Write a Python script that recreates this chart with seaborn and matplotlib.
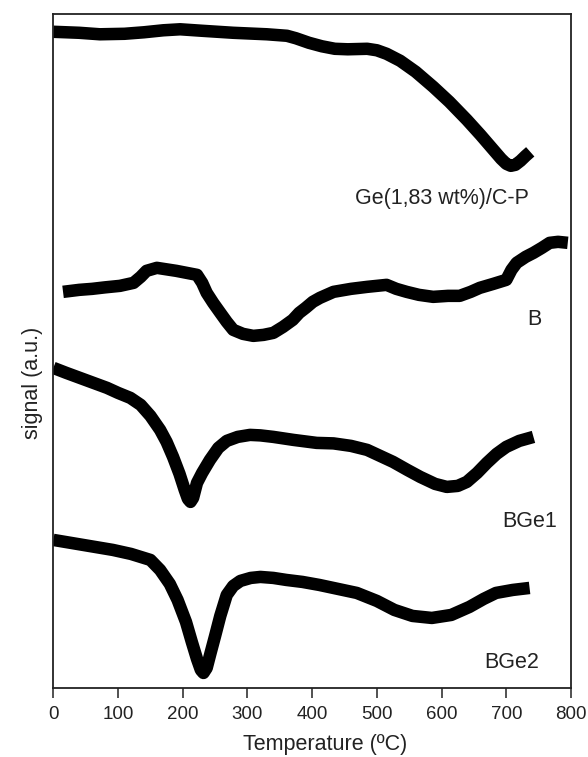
import numpy as np
import pandas as pd
import seaborn as sns
from matplotlib import pyplot as plt

# curves (temperature in ºC, signal in arbitrary units)
ge_temp = [0, 40, 72, 110, 140, 170, 196, 230, 278, 330, 361, 375, 395, 415, 435,
           455, 485, 500, 515, 536, 560, 587, 612, 639, 660, 680, 692, 700, 707,
           714, 722, 730, 737]
ge_signal = [656, 655, 653.5, 654, 655.5, 657.5, 658.5, 657, 655, 653.5, 652, 649.5,
             645, 641.5, 639, 638.5, 639, 637.5, 634, 627, 616, 601, 586, 568, 553,
             538, 529, 524, 522, 523, 527, 532, 536]

b_temp = [15, 40, 60, 80, 103, 124, 135, 144, 160, 190, 222, 230, 237, 247, 258,
          268, 278, 293, 309, 325, 340, 355, 370, 380, 390, 401, 412, 433, 460, 485,
          515, 530, 546, 565, 587, 610, 628, 645, 659, 680, 700, 708, 716, 730, 742,
          755, 767, 780, 795]
b_signal = [396, 398, 399, 400.5, 402, 405, 411, 417, 420, 417, 413, 405, 395, 385,
            375, 366, 358, 354, 352, 353, 355, 361, 368, 375, 380, 386, 390, 396, 399,
            401, 403, 399, 396, 393, 391, 392, 392, 396, 400, 404, 408, 418, 425, 431,
            435, 440, 445, 446, 445]

bge1_temp = [0, 20, 41, 62, 83, 100, 119, 135, 150, 165, 175, 185, 195, 203, 208,
             212, 216, 222, 230, 242, 255, 268, 285, 304, 320, 340, 371, 407, 433,
             460, 485, 505, 525, 547, 567, 590, 608, 625, 639, 655, 670, 685, 700,
             720, 742]
bge1_signal = [320, 315, 310, 305, 300, 295, 290, 283, 272, 258, 246, 231, 214, 198,
               189, 186, 190, 205, 215, 228, 240, 247, 251, 253, 252.5, 251, 248, 245,
               244.5, 242, 238, 232, 226, 218, 211, 204, 201, 202, 206, 215, 225, 234,
               241, 247, 251]

bge2_temp = [0, 46, 92, 120, 150, 165, 180, 192, 205, 214, 222, 228, 232, 237, 243,
             250, 258, 268, 278, 289, 305, 320, 340, 360, 385, 411, 440, 469, 500, 527,
             555, 585, 615, 643, 665, 684, 710, 736]
bge2_signal = [148, 143, 138, 134, 128, 118, 104, 88, 66, 46, 29, 18, 15, 20, 35,
               52, 72, 93, 102, 107, 110, 111, 110, 108, 106, 103, 99, 95, 87, 78, 72,
               70, 73, 81, 89, 95, 98, 100]

samples = ["Ge(1,83 wt%)/C-P", "B", "BGe1", "BGe2"]
label_x = [600, 744, 736, 708]
label_y = [489, 368, 166, 25]

frames = []
for name, t, s in zip(samples, [ge_temp, b_temp, bge1_temp, bge2_temp],
                      [ge_signal, b_signal, bge1_signal, bge2_signal]):
    frames.append(pd.DataFrame({"temp": t, "signal": s, "sample": name}))
df = pd.concat(frames, ignore_index=True)

sns.set_theme(style="ticks")
plt.rcParams['font.family'] = ['Liberation Sans', 'DejaVu Sans']

fig = plt.figure(figsize=(5.88, 7.57), dpi=100)
ax = fig.add_axes([0.0907, 0.0912, 0.8804, 0.8906])

sns.lineplot(data=df, x="temp", y="signal", hue="sample", units="sample",
             estimator=None, palette={n: "black" for n in samples}, legend=False,
             linewidth=9, solid_capstyle="butt", solid_joinstyle="round", ax=ax)

for name, lx, ly in zip(samples, label_x, label_y):
    ax.text(lx, ly, name, ha="center", va="center", fontsize=15.5, color="#222222")

ax.set_xlim(0, 800)
ax.set_ylim(0, 674)
ax.set_xticks(np.arange(0, 801, 100))
ax.set_yticks([])
ax.tick_params(axis="x", direction="out", length=7, width=1.1, pad=6,
               labelsize=13.5, colors="#222222")
for sp in ax.spines.values():
    sp.set_visible(True)
    sp.set_color("#222222")
    sp.set_linewidth(1.3)

ax.set_xlabel("Temperature (ºC)", fontsize=15.5, color="#222222")
ax.set_ylabel("signal (a.u.)", fontsize=15.5, color="#222222")
ax.xaxis.set_label_coords(0.525, -0.068)
ax.yaxis.set_label_coords(-0.02, 0.4525)

fig.savefig("out.png", dpi=100)
